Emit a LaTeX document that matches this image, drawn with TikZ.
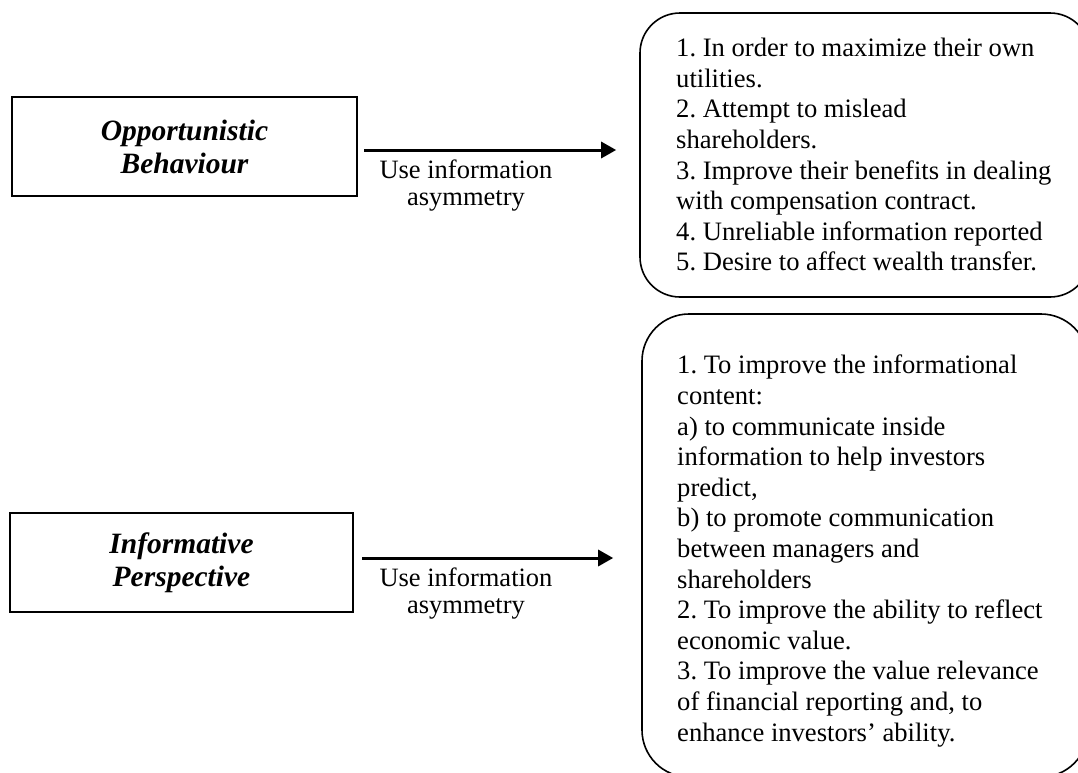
\documentclass[tikz,border=0pt]{standalone}
\usepackage{fontspec}
\setmainfont{Liberation Serif}
\usetikzlibrary{arrows.meta}
\frenchspacing
\begin{document}
\begin{tikzpicture}[x=1pt,y=-1pt,
  leftbox/.style={draw, line width=2.5pt, minimum height=99pt, inner sep=0pt,
    align=center, font=\fontsize{29.5}{33}\selectfont\bfseries\itshape},
  listbox/.style={draw, line width=1.6pt, rounded corners=#1, inner sep=0pt},
  listtext/.style={anchor=north west, inner sep=0pt, align=left,
    font=\fontsize{26.6}{30.6}\selectfont},
  arr/.style={line width=3pt, -{Triangle[length=15pt,width=16pt]}},
  arrlabel/.style={align=center, inner sep=0pt, font=\fontsize{26.5}{27}\selectfont}]
\useasboundingbox (0,0) rectangle (1078,772);
\clip (0,0) rectangle (1078,772);

% left-hand boxes
\node[leftbox, minimum width=345pt] (b1) at (184.5,146.5) {Opportunistic\\Behaviour};
\node[leftbox, minimum width=343pt] (b2) at (181.5,562.5) {Informative\\Perspective};

% right-hand rounded boxes (partly cut off at the right and bottom)
\node[listbox=40pt, minimum width=450pt, minimum height=284pt] (r1) at (865,155) {};
\node[listbox=47pt, minimum width=446pt, minimum height=463pt] (r2) at (865,545.5) {};

\node[listtext] (t1) at (676,38) {1. In order to maximize their own\\
utilities.\\
2. Attempt to mislead\\
shareholders.\\
3. Improve their benefits in dealing\\
with compensation contract.\\
4. Unreliable information reported\\
5. Desire to affect wealth transfer.};

\node[listtext] (t2) at (677,355) {1. To improve the informational\\
content:\\
a) to communicate inside\\
information to help investors\\
predict,\\
b) to promote communication\\
between managers and\\
shareholders\\
2. To improve the ability to reflect\\
economic value.\\
3. To improve the value relevance\\
of financial reporting and, to\\
enhance investors’ ability.};

% connectors
\coordinate (s1) at ([yshift=-3.5pt]b1.east);
\coordinate (s2) at ([yshift=4.5pt]b2.east);
\draw[arr, shorten <=6pt, shorten >=23pt] (s1) -- (s1 -| r1.west);
\draw[arr, shorten <=8pt, shorten >=28pt] (s2) -- (s2 -| r2.west);

\node[arrlabel] (l1) at (466,186) {Use information\\asymmetry};
\node[arrlabel] (l2) at (466,594) {Use information\\asymmetry};
\end{tikzpicture}
\end{document}
